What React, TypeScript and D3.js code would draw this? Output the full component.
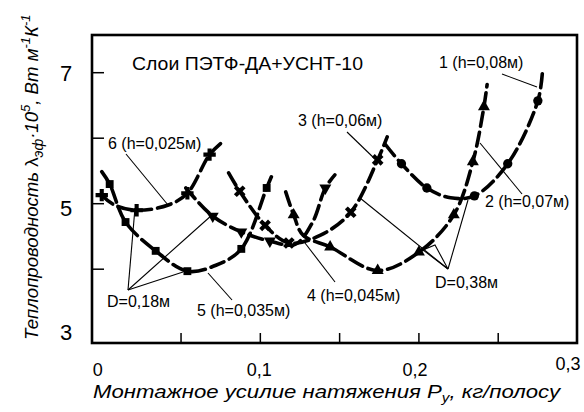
import React from "react";
import * as d3 from "d3";

// ---- data (x: tension, kg/strip; y: λ·10^5) ----
const curve1: [number, number][] = [[0.179,5.90],[0.189,5.61],[0.205,5.24],[0.220,5.09],[0.235,5.12],[0.256,5.61],[0.275,6.57],[0.278,7.05]];
const curve2: [number, number][] = [[0.116,5.18],[0.121,4.83],[0.127,4.52],[0.144,4.34],[0.174,3.98],[0.200,4.26],[0.222,4.83],[0.234,5.64],[0.241,6.48],[0.243,6.82]];
const curve3: [number, number][] = [[0.080,5.47],[0.087,5.19],[0.103,4.67],[0.118,4.40],[0.138,4.52],[0.157,4.87],[0.174,5.67],[0.180,6.02]];
const curve4: [number, number][] = [[0.053,5.24],[0.070,4.81],[0.088,4.57],[0.106,4.43],[0.122,4.38],[0.133,4.72],[0.141,5.24],[0.147,5.44]];
const curve5: [number, number][] = [[0.000,5.49],[0.005,5.30],[0.015,4.72],[0.034,4.28],[0.054,3.97],[0.072,4.06],[0.088,4.31],[0.104,5.24],[0.108,5.47]];
const curve6: [number, number][] = [[0.000,5.13],[0.008,4.98],[0.022,4.90],[0.042,4.98],[0.054,5.16],[0.068,5.75],[0.076,5.94]];

const marks1 = [1,2,4,5,6];
const marks2 = [1,3,4,5,6,7,8];
const marks3 = [1,2,3,5,6];
const marks4 = [1,2,3,6];
const marks5 = [1,2,3,4,6,7];
const marks6 = [0,2,4,5];

const curveLabels = ["1 (h=0,08м)","2 (h=0,07м)","3 (h=0,06м)","4 (h=0,045м)","5 (h=0,035м)","6 (h=0,025м)"];
const title = "Слои ПЭТФ-ДА+УСНТ-10";
const xTickVals = [0.05,0.1,0.15,0.2,0.25];
const yTickVals = [4,5,6,7];
const xLabelVals = [0,0.1,0.2,0.3];
const xLabelText = ["0","0,1","0,2","0,3"];
const yLabelVals = [3,5,7];
const yLabelText = ["3","5","7"];

const FONT = "'Liberation Sans', Arial, sans-serif";

export default function App() {
  const W = 584, H = 412;
  const L = 92, R = 577, T = 35, B = 343;
  const x = d3.scaleLinear().domain([0, 0.3]).range([101.75, 577.5]);
  const y = d3.scaleLinear().domain([3, 7]).range([334.7, 72.7]);
  const line = d3.line<[number, number]>().x(d => x(d[0])).y(d => y(d[1])).curve(d3.curveCatmullRom.alpha(0.5));

  const series = [
    { pts: curve1, marks: marks1, sym: d3.symbolCircle, size: 68, rot: 0 },
    { pts: curve2, marks: marks2, sym: d3.symbolTriangle, size: 62, rot: 0 },
    { pts: curve3, marks: marks3, sym: d3.symbolCross, size: 85, rot: 45 },
    { pts: curve4, marks: marks4, sym: d3.symbolTriangle, size: 62, rot: 180 },
    { pts: curve5, marks: marks5, sym: d3.symbolSquare, size: 62, rot: 0 },
    { pts: curve6, marks: marks6, sym: d3.symbolCross, size: 85, rot: 0 },
  ];

  const thin = { stroke: "#000", strokeWidth: 1.1, fill: "none" } as const;
  const lbl = { fontFamily: FONT, fontSize: 16, fill: "#000" } as const;

  return (
    <svg width={W} height={H} style={{ position: "absolute", left: 0, top: 0, background: "#fff" }}>
      <rect x={0} y={0} width={W} height={H} fill="#fff" />
      {/* curves */}
      {series.map((s, i) => (
        <g key={i}>
          <path d={line(s.pts) || ""} fill="none" stroke="#000" strokeWidth={3.6} strokeDasharray="14,6" strokeLinecap="round" />
          {s.marks.map(m => (
            <path key={m} d={d3.symbol().type(s.sym).size(s.size)() || ""}
              transform={`translate(${x(s.pts[m][0])},${y(s.pts[m][1])}) rotate(${s.rot})`} fill="#000" />
          ))}
        </g>
      ))}
      {/* frame */}
      <rect x={L} y={T} width={R - L} height={B - T} fill="none" stroke="#000" strokeWidth={2.6} />
      {xTickVals.map(v => <line key={v} x1={x(v)} x2={x(v)} y1={B} y2={B - 10} stroke="#000" strokeWidth={1.5} />)}
      {yTickVals.map(v => <line key={v} x1={L} x2={L + 12} y1={y(v)} y2={y(v)} stroke="#000" strokeWidth={1.5} />)}
      {/* tick labels */}
      {xLabelVals.map((v, i) => (
        <text key={v} x={i === 3 ? x(v) + 3 : x(v) - (i === 1 ? 1 : 4)} y={i === 3 ? 370 : 376}
          textAnchor={i === 3 ? "end" : "middle"} fontFamily={FONT} fontSize={18}>{xLabelText[i]}</text>
      ))}
      {yLabelVals.map((v, i) => (
        <text key={v} x={66} y={y(v) + (i === 0 ? 5 : i === 1 ? 12 : 8)} textAnchor="middle" fontFamily={FONT} fontSize={22}>{yLabelText[i]}</text>
      ))}
      {/* title */}
      <text x={132} y={70} {...lbl} fontSize={19} textLength={231} lengthAdjust="spacingAndGlyphs">{title}</text>
      {/* curve labels and leaders */}
      <text x={439} y={68} {...lbl}>{curveLabels[0]}</text>
      <line x1={502} y1={74} x2={537} y2={87} {...thin} />
      <text x={485} y={207} {...lbl}>{curveLabels[1]}</text>
      <line x1={480} y1={143} x2={522} y2={194} {...thin} />
      <text x={298} y={126} {...lbl}>{curveLabels[2]}</text>
      <line x1={347} y1={132} x2={376} y2={160} {...thin} />
      <text x={307} y={301} {...lbl}>{curveLabels[3]}</text>
      <line x1={335} y1={282} x2={305} y2={243} {...thin} />
      <text x={197} y={316} {...lbl}>{curveLabels[4]}</text>
      <line x1={232} y1={300} x2={208} y2={273} {...thin} />
      <text x={108} y={149} {...lbl}>{curveLabels[5]}</text>
      <line x1={126} y1={154} x2={168} y2={205} {...thin} />
      {/* D = 0,18 */}
      <text x={107} y={307} {...lbl}>D=0,18м</text>
      <line x1={128} y1={290} x2={135} y2={208} {...thin} />
      <line x1={128} y1={290} x2={212} y2={215} {...thin} />
      <line x1={128} y1={290} x2={183} y2={272} {...thin} />
      {/* D = 0,38 */}
      <text x={435} y={288} {...lbl}>D=0,38м</text>
      <line x1={448} y1={269} x2={360} y2={198} {...thin} />
      <path d="M448,269 L423,250 L435,245 Z" {...thin} />
      <line x1={448} y1={269} x2={468} y2={200} {...thin} />
      {/* axis titles */}
      <text x={93} y={398} fontFamily={FONT} fontSize={19} fontStyle="italic" textLength={467} lengthAdjust="spacingAndGlyphs">
        Монтажное усилие натяжения P<tspan fontSize={13} dy={4}>y</tspan><tspan dy={-4}>, кг/полосу</tspan>
      </text>
      <text transform="translate(38,340) rotate(-90)" fontFamily={FONT} fontSize={18.6} fontStyle="italic">
        Теплопроводность <tspan fontStyle="normal">λ</tspan><tspan fontSize={14} dy={5}>эф</tspan><tspan dy={-5}>·10</tspan><tspan fontSize={13} dy={-8}>5</tspan><tspan dy={8}>, Вт м</tspan><tspan fontSize={13} dy={-8}>-1</tspan><tspan dy={8}>К</tspan><tspan fontSize={13} dy={-8}>-1</tspan>
      </text>
    </svg>
  );
}
